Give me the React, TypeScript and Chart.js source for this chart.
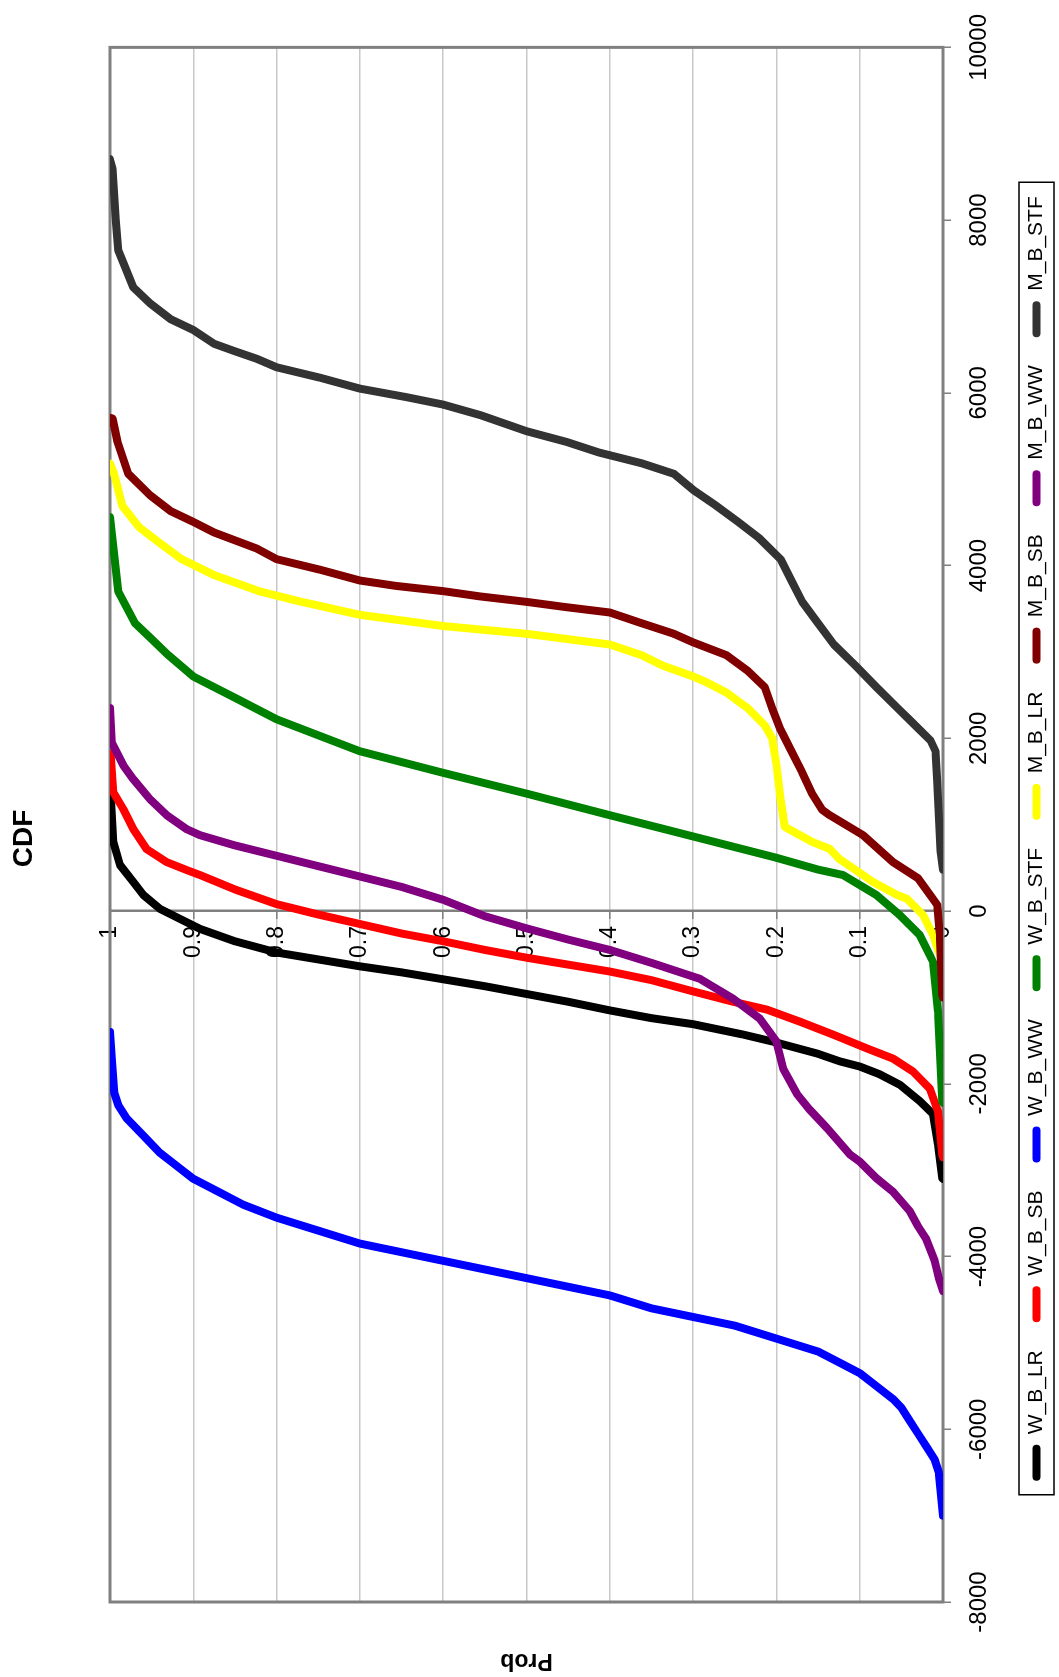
import React, { useEffect, useRef } from 'react';
import { Chart, registerables } from 'chart.js';

Chart.register(...registerables);

const FONT = "'Liberation Sans', Arial, Helvetica, sans-serif";

const seriesNames = ['W_B_LR', 'W_B_SB', 'W_B_WW', 'W_B_STF', 'M_B_LR', 'M_B_SB', 'M_B_WW', 'M_B_STF'];
const seriesColors = ['#000000', '#FF0000', '#0000FF', '#008000', '#FFFF00', '#800000', '#800080', '#333333'];

const xTickLabels = ['-8000', '-6000', '-4000', '-2000', '0', '2000', '4000', '6000', '8000', '10000'];
const yTickLabels = ['0', '0.1', '0.2', '0.3', '0.4', '0.5', '0.6', '0.7', '0.8', '0.9', '1'];

// W_B_LR
const wbLrP = [0, 0.001, 0.006, 0.012, 0.028, 0.052, 0.076, 0.1, 0.124, 0.151, 0.205, 0.24, 0.3, 0.35, 0.4, 0.45, 0.5, 0.55, 0.6, 0.65, 0.7, 0.75, 0.8, 0.85, 0.892, 0.916, 0.94, 0.96, 0.972, 0.988, 0.996, 0.999, 1];
const wbLrX = [-3100, -3090, -2700, -2350, -2200, -2010, -1890, -1800, -1740, -1650, -1510, -1430, -1310, -1240, -1150, -1050, -960, -870, -790, -710, -640, -560, -480, -350, -206, -91, 25, 186, 336, 533, 798, 1340, 1380];

// W_B_SB
const wbSbP = [0, 0.001, 0.006, 0.016, 0.036, 0.06, 0.091, 0.132, 0.172, 0.211, 0.252, 0.3, 0.35, 0.4, 0.45, 0.5, 0.55, 0.6, 0.65, 0.7, 0.75, 0.8, 0.85, 0.892, 0.908, 0.932, 0.956, 0.972, 0.984, 0.996, 0.999, 1];
const wbSbX = [-2850, -2816, -2320, -2054, -1858, -1708, -1592, -1430, -1280, -1142, -1050, -930, -800, -700, -620, -540, -450, -350, -260, -150, -40, 80, 250, 417, 475, 567, 717, 948, 1179, 1375, 1800, 1820];

// W_B_WW
const wbWwP = [0, 0.005, 0.01, 0.02, 0.03, 0.04, 0.05, 0.06, 0.08, 0.1, 0.12, 0.15, 0.2, 0.25, 0.3, 0.35, 0.4, 0.45, 0.5, 0.55, 0.6, 0.65, 0.7, 0.75, 0.8, 0.84, 0.87, 0.9, 0.92, 0.94, 0.96, 0.98, 0.99, 0.995, 0.998, 1];
const wbWwX = [-7000, -6500, -6350, -6200, -6050, -5900, -5750, -5650, -5500, -5350, -5250, -5100, -4950, -4800, -4700, -4600, -4450, -4350, -4250, -4150, -4050, -3950, -3850, -3700, -3550, -3400, -3250, -3100, -2950, -2800, -2600, -2400, -2250, -2100, -1700, -1400];

// W_B_STF
const wbStfP = [0, 0.001, 0.006, 0.012, 0.016, 0.028, 0.052, 0.08, 0.12, 0.15, 0.2, 0.3, 0.4, 0.5, 0.6, 0.7, 0.8, 0.85, 0.9, 0.93, 0.95, 0.97, 0.99, 1];
const wbStfX = [-2220, -2204, -1165, -588, -507, -276, -45, 186, 417, 480, 617, 864, 1110, 1360, 1600, 1850, 2220, 2470, 2716, 2963, 3148, 3333, 3700, 4560];

// M_B_LR
const mbLrP = [0, 0.007, 0.012, 0.024, 0.043, 0.055, 0.084, 0.096, 0.124, 0.136, 0.157, 0.19, 0.195, 0.2, 0.205, 0.214, 0.234, 0.26, 0.285, 0.3, 0.336, 0.362, 0.4, 0.5, 0.6, 0.7, 0.77, 0.82, 0.875, 0.914, 0.94, 0.965, 0.985, 0.995, 1];
const mbLrX = [-600, -420, -276, -45, 140, 186, 336, 417, 600, 720, 800, 975, 1300, 1700, 2000, 2150, 2345, 2530, 2654, 2716, 2840, 2963, 3086, 3210, 3300, 3430, 3580, 3700, 3890, 4074, 4260, 4444, 4690, 5060, 5180];

// M_B_SB
const mbSbP = [0, 0.001, 0.004, 0.007, 0.012, 0.03, 0.06, 0.096, 0.136, 0.145, 0.157, 0.169, 0.182, 0.195, 0.205, 0.214, 0.234, 0.26, 0.3, 0.323, 0.362, 0.4, 0.452, 0.5, 0.555, 0.6, 0.657, 0.7, 0.747, 0.8, 0.824, 0.875, 0.9, 0.927, 0.952, 0.978, 0.991, 0.997, 1];
const mbSbX = [-1000, -968, -260, 71, 140, 380, 567, 879, 1110, 1173, 1358, 1605, 1852, 2099, 2345, 2592, 2778, 2963, 3111, 3210, 3333, 3457, 3518, 3580, 3642, 3704, 3765, 3827, 3950, 4074, 4198, 4383, 4506, 4630, 4815, 5062, 5432, 5704, 5710];

// M_B_WW
const mbWwP = [0, 0.005, 0.01, 0.02, 0.03, 0.04, 0.06, 0.08, 0.1, 0.112, 0.139, 0.16, 0.175, 0.192, 0.2, 0.22, 0.252, 0.292, 0.35, 0.4, 0.45, 0.5, 0.55, 0.6, 0.65, 0.7, 0.75, 0.8, 0.85, 0.892, 0.908, 0.932, 0.952, 0.972, 0.984, 0.998, 1];
const mbWwX = [-4400, -4250, -4050, -3800, -3650, -3474, -3250, -3093, -2900, -2816, -2516, -2300, -2123, -1822, -1511, -1245, -1015, -784, -600, -450, -330, -200, -60, 130, 280, 400, 520, 640, 760, 879, 948, 1110, 1295, 1526, 1687, 1953, 2350];

// M_B_STF
const mbStfP = [0, 0.003, 0.007, 0.009, 0.015, 0.028, 0.041, 0.054, 0.08, 0.105, 0.131, 0.15, 0.169, 0.182, 0.195, 0.221, 0.246, 0.272, 0.3, 0.323, 0.362, 0.413, 0.452, 0.5, 0.555, 0.6, 0.644, 0.7, 0.747, 0.8, 0.824, 0.85, 0.875, 0.9, 0.927, 0.952, 0.972, 0.985, 0.99, 0.993, 0.997, 1];
const mbStfX = [480, 700, 1490, 1852, 1975, 2099, 2222, 2345, 2593, 2840, 3086, 3333, 3580, 3827, 4074, 4321, 4506, 4691, 4877, 5062, 5185, 5309, 5432, 5556, 5741, 5864, 5950, 6049, 6173, 6296, 6395, 6481, 6568, 6728, 6852, 7037, 7222, 7530, 7650, 8000, 8600, 8704];

const seriesX = [wbLrX, wbSbX, wbWwX, wbStfX, mbLrX, mbSbX, mbWwX, mbStfX];
const seriesP = [wbLrP, wbSbP, wbWwP, wbStfP, mbLrP, mbSbP, mbWwP, mbStfP];

const plotBorder = {
  id: 'plotBorder',
  beforeDatasetsDraw(chart: any) {
    const { ctx, chartArea } = chart;
    ctx.save();
    ctx.strokeStyle = '#808080';
    ctx.lineWidth = 3;
    ctx.strokeRect(chartArea.left, chartArea.top, chartArea.right - chartArea.left, chartArea.bottom - chartArea.top);
    ctx.restore();
  },
};

// push the value-axis labels away from the axis line (axis sits at x = 0)
const yLabelGap = {
  id: 'yLabelGap',
  beforeDraw(chart: any) {
    const s = chart.scales.y;
    if (!s || !s.getLabelItems) return;
    const items = s.getLabelItems();
    items.forEach((it: any) => {
      if (!it.__shifted && it.options && it.options.translation) {
        it.options.translation[0] -= 15;
        it.__shifted = true;
      }
    });
  },
};

const legendBorder = {
  id: 'legendBorder',
  afterDraw(chart: any) {
    const lg = chart.legend;
    if (!lg || !lg.legendHitBoxes || !lg.legendHitBoxes.length) return;
    let l = Infinity;
    let r = -Infinity;
    let cy = 0;
    lg.legendHitBoxes.forEach((h: any) => {
      l = Math.min(l, h.left);
      r = Math.max(r, h.left + h.width);
      cy = h.top + h.height / 2;
    });
    const ctx = chart.ctx;
    ctx.save();
    ctx.strokeStyle = '#000000';
    ctx.lineWidth = 1.5;
    ctx.strokeRect(l - 14, cy - 17.5, r - l + 28, 35);
    ctx.restore();
  },
};

export default function App() {
  const ref = useRef<HTMLCanvasElement>(null);

  useEffect(() => {
    if (!ref.current) return;
    Chart.defaults.font.family = FONT;
    Chart.defaults.color = '#000000';

    const datasets = seriesNames.map((name, i) => ({
      label: name,
      data: seriesX[i].map((x, j) => ({ x, y: seriesP[i][j] })),
      borderColor: seriesColors[i],
      backgroundColor: seriesColors[i],
      borderWidth: 8,
      pointRadius: 0,
      showLine: true,
      fill: false,
      tension: 0,
      borderJoinStyle: 'round' as const,
      borderCapStyle: 'round' as const,
      order: seriesNames.length - 1 - i,
      xAxisID: 'x',
      yAxisID: 'y',
    }));

    const chart = new Chart(ref.current, {
      type: 'scatter',
      data: { datasets },
      plugins: [plotBorder, yLabelGap, legendBorder],
      options: {
        responsive: false,
        animation: false,
        devicePixelRatio: 1,
        events: [],
        layout: { padding: { left: 0, right: 0, top: 0, bottom: 2 } },
        plugins: {
          tooltip: { enabled: false },
          title: {
            display: true,
            text: 'CDF',
            color: '#000000',
            font: { size: 28, weight: 'bold', family: FONT },
            padding: { top: 7, bottom: 69.4 },
          },
          legend: {
            display: true,
            position: 'bottom',
            labels: {
              color: '#000000',
              font: { size: 21, family: FONT },
              boxWidth: 36,
              boxHeight: 8,
              padding: 28,
              useBorderRadius: true,
              borderRadius: 4,
              sort: (a: any, b: any) => a.datasetIndex - b.datasetIndex,
              generateLabels: (c: any) =>
                (Chart.defaults.plugins.legend.labels.generateLabels as any)(c).map((it: any) => ({
                  ...it,
                  fillStyle: seriesColors[it.datasetIndex],
                  strokeStyle: seriesColors[it.datasetIndex],
                  lineWidth: 0,
                })),
            },
          },
        },
        scales: {
          x: {
            type: 'linear',
            position: 'bottom',
            min: -8000,
            max: 10000,
            afterFit: (s: any) => {
              s.height = 55;
            },
            ticks: {
              stepSize: 2000,
              maxRotation: 0,
              autoSkip: false,
              padding: 14,
              color: '#000000',
              font: { size: 24, family: FONT },
              callback: (_v: any, i: number) => xTickLabels[i],
            },
            grid: {
              drawOnChartArea: false,
              drawTicks: true,
              tickLength: 8,
              color: '#808080',
              lineWidth: 1.5,
            },
            border: { display: true, color: '#808080', width: 2 },
          },
          y: {
            type: 'linear',
            position: { x: 0 } as any,
            min: 0,
            max: 1,
            ticks: {
              stepSize: 0.1,
              autoSkip: false,
              padding: 12,
              color: '#000000',
              font: { size: 23, family: FONT },
              callback: (_v: any, i: number) => yTickLabels[i],
            },
            grid: {
              color: '#c8c8c8',
              lineWidth: 1.5,
              drawTicks: true,
              tickLength: 7,
              tickColor: '#808080',
              tickWidth: 1.5,
            },
            border: { display: true, color: '#808080', width: 2.5 },
          },
          yT: {
            type: 'linear',
            position: 'left',
            display: true,
            afterFit: (s: any) => {
              s.width = 75;
            },
            ticks: { display: false },
            grid: { display: false },
            border: { display: false },
            title: {
              display: true,
              text: 'Prob',
              color: '#000000',
              font: { size: 23, weight: 'bold', family: FONT },
              padding: { top: 3, bottom: 0 },
            },
          },
          yR: {
            type: 'linear',
            position: 'right',
            display: true,
            afterFit: (s: any) => {
              s.width = 43;
            },
            ticks: { display: false },
            grid: { display: false },
            border: { display: false },
          },
        },
      } as any,
    });

    return () => {
      chart.destroy();
    };
  }, []);

  return (
    <div
      style={{
        position: 'absolute',
        left: 0,
        top: 0,
        width: 1059,
        height: 1677,
        overflow: 'hidden',
        background: '#ffffff',
      }}
    >
      <div
        style={{
          position: 'absolute',
          left: 0,
          top: 0,
          width: 1677,
          height: 1059,
          transformOrigin: '0 0',
          transform: 'translate(0px, 1677px) rotate(-90deg)',
        }}
      >
        <canvas ref={ref} width={1677} height={1059} style={{ width: 1677, height: 1059, display: 'block' }} />
      </div>
    </div>
  );
}
